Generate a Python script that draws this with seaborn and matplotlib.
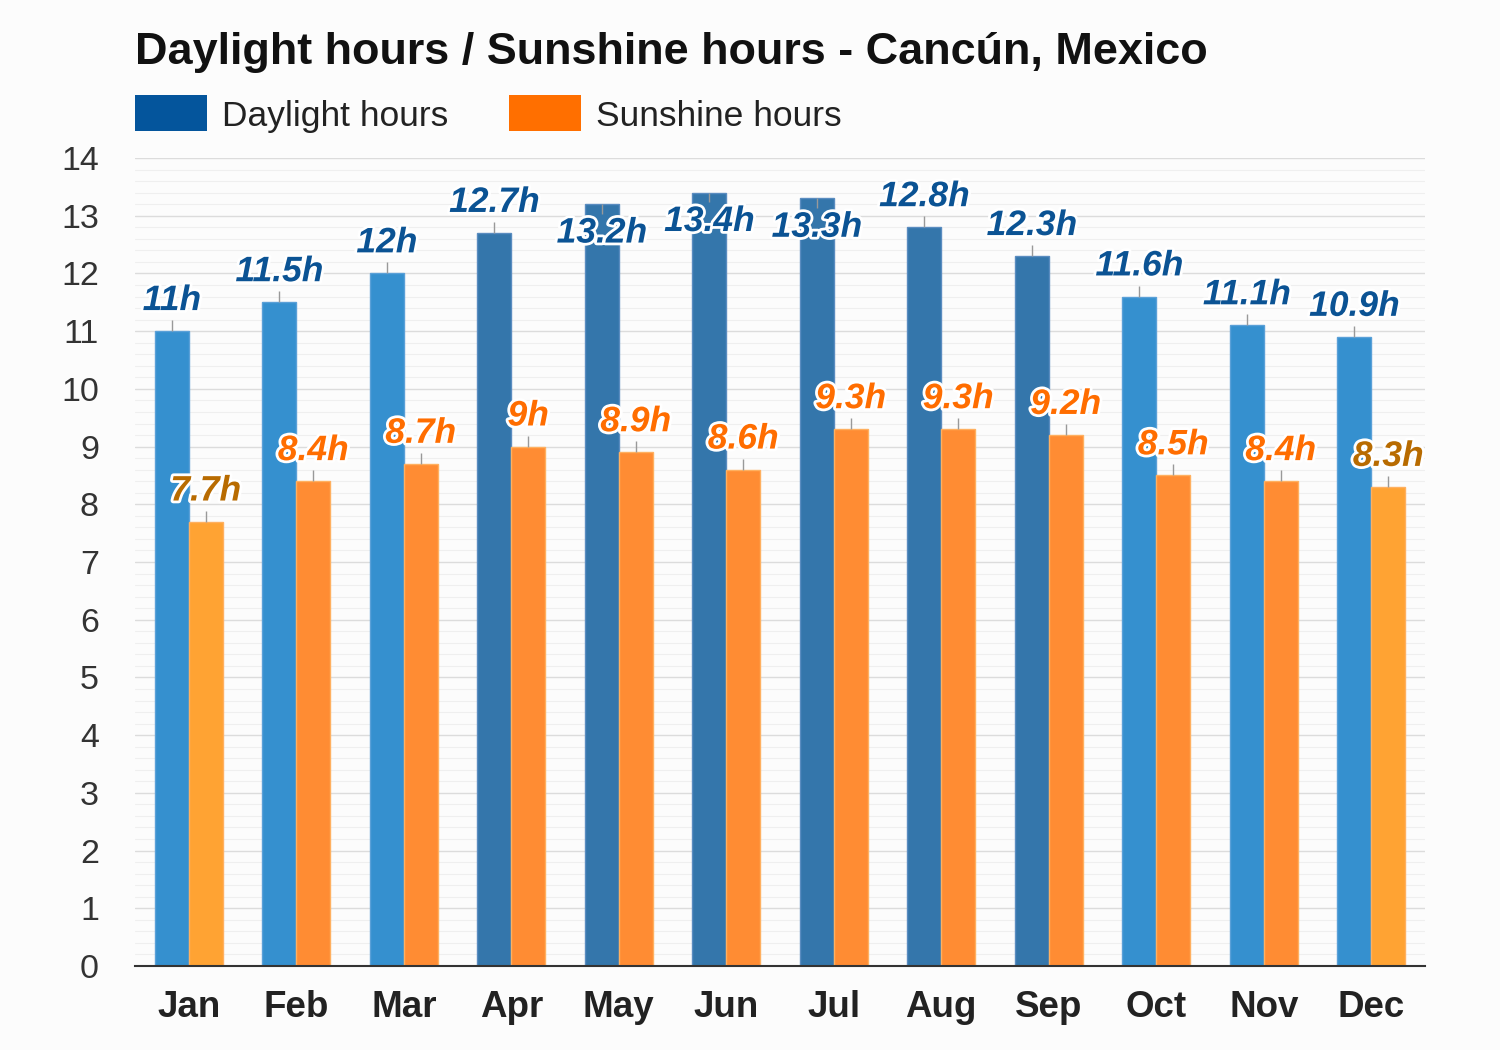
#!/usr/bin/env python3
# plot.py
# Daylight / sunshine hours per month - Cancun

import pandas as pd
import matplotlib
matplotlib.use("Agg")
import matplotlib.pyplot as plt
import matplotlib.patheffects as pe
from matplotlib.patches import Rectangle
from matplotlib.ticker import MultipleLocator
import seaborn as sns

# Data
months = ["Jan", "Feb", "Mar", "Apr", "May", "Jun",
          "Jul", "Aug", "Sep", "Oct", "Nov", "Dec"]
daylight = [11, 11.5, 12, 12.7, 13.2, 13.4, 13.3, 12.8, 12.3, 11.6, 11.1, 10.9]
sunshine = [7.7, 8.4, 8.7, 9, 8.9, 8.6, 9.3, 9.3, 9.2, 8.5, 8.4, 8.3]
series = ["Daylight hours", "Sunshine hours"]

# Colours (per bar shading as in the original)
DAY_LIGHT, DAY_DARK = "#3590cf", "#3476ab"
SUN_NORMAL, SUN_PALE = "#ff8c33", "#ffa333"
DAY_TEXT = "#0b5394"
SUN_TEXT, SUN_TEXT_DARK = "#ff6d00", "#b86b00"
long_days = {"Apr", "May", "Jun", "Jul", "Aug", "Sep"}
pale_sun = {"Jan", "Dec"}
inside_labels = {"May", "Jun", "Jul"}

sns.set_style("white")
plt.rcParams['font.family'] = ['Liberation Sans', 'DejaVu Sans']

df = pd.DataFrame({
    "month": months * 2,
    "hours": daylight + sunshine,
    "series": [series[0]] * 12 + [series[1]] * 12,
})

W, H = 1500, 1050
fig = plt.figure(figsize=(15, 10.5), dpi=100, facecolor="#fcfcfc")
ax = fig.add_axes([0.09, 0.08, 0.86, 0.7695])
ax.set_facecolor("#fcfcfc")

sns.barplot(data=df, x="month", y="hours", hue="series", order=months,
            hue_order=series, width=0.63, legend=False, ax=ax,
            palette=[DAY_LIGHT, SUN_NORMAL], errorbar=None)

# recolour bars one by one
for bar, m in zip(ax.containers[0], months):
    c = DAY_DARK if m in long_days else DAY_LIGHT
    bar.set_facecolor(c)
    bar.set_edgecolor("#5aa0d8" if m not in long_days else "#5a8cc0")
    bar.set_linewidth(1)
for bar, m in zip(ax.containers[1], months):
    c = SUN_PALE if m in pale_sun else SUN_NORMAL
    bar.set_facecolor(c)
    bar.set_edgecolor("#ffb060")
    bar.set_linewidth(1)

stroke = [pe.withStroke(linewidth=4, foreground="white")]

# value labels with small connector lines
for bar, m, v in zip(ax.containers[0], months, daylight):
    x = bar.get_x() + bar.get_width() / 2
    if m in inside_labels:
        ax.vlines(x, v - 0.17, v, color="#999999", lw=1, zorder=3)
        ty = v - 0.5
    else:
        ax.vlines(x, v, v + 0.19, color="#999999", lw=1, zorder=3)
        ty = v + 0.53
    ax.text(x, ty, f"{v:g}h", ha="center", va="center", fontsize=25.5,
            fontweight="bold", fontstyle="italic", color=DAY_TEXT,
            path_effects=stroke, zorder=5)

for bar, m, v in zip(ax.containers[1], months, sunshine):
    x = bar.get_x() + bar.get_width() / 2
    ax.vlines(x, v, v + 0.19, color="#999999", lw=1, zorder=3)
    col = SUN_TEXT_DARK if m in pale_sun else SUN_TEXT
    ax.text(x, v + 0.53, f"{v:g}h", ha="center", va="center", fontsize=25.5,
            fontweight="bold", fontstyle="italic", color=col,
            path_effects=stroke, zorder=5)

# axes styling
ax.set_ylim(0, 14)
ax.set_xlim(-0.5, 11.5)
ax.yaxis.set_major_locator(MultipleLocator(1))
ax.yaxis.set_minor_locator(MultipleLocator(0.2))
ax.grid(axis="y", which="major", color="#dcdcdc", lw=1)
ax.grid(axis="y", which="minor", color="#efefef", lw=0.8)
ax.set_axisbelow(True)
for s in ["top", "right", "left"]:
    ax.spines[s].set_visible(False)
ax.spines["bottom"].set_color("#333333")
ax.spines["bottom"].set_linewidth(1.5)
ax.tick_params(axis="y", which="both", length=0, pad=26, labelsize=24.5,
               labelcolor="#333333")
ax.tick_params(axis="x", length=0, pad=17, labelsize=26.5)
for lbl in ax.get_xticklabels():
    lbl.set_fontweight("bold")
    lbl.set_color("#222222")
ax.set_xlabel("")
ax.set_ylabel("")

# title and legend
fig.text(135 / W, 1 - 64 / H, "Daylight hours / Sunshine hours - Cancún, Mexico",
         fontsize=32.4, fontweight="bold", color="#111111", va="baseline")

legend_items = [(135, "#04559c", series[0]), (509, "#ff6f00", series[1])]
for x0, col, name in legend_items:
    fig.patches.append(Rectangle((x0 / W, 1 - 131 / H), 72 / W, 36 / H,
                                 transform=fig.transFigure, facecolor=col,
                                 edgecolor="none"))
    fig.text((x0 + 87) / W, 1 - 113 / H, name, fontsize=25.5,
             color="#222222", va="center_baseline", ha="left")

fig.savefig("out.png", dpi=100, facecolor=fig.get_facecolor())
